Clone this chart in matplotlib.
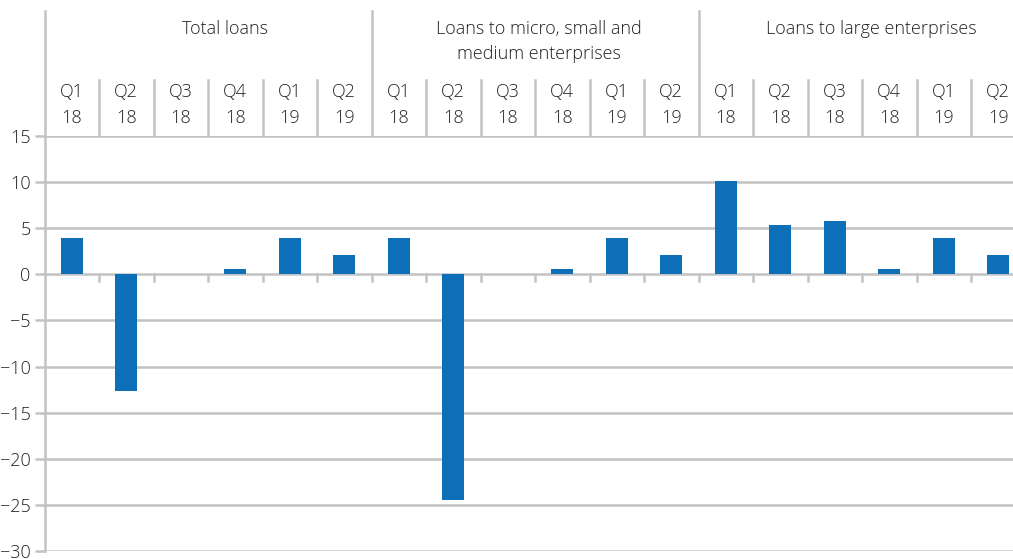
import matplotlib.pyplot as plt
import numpy as np

plt.rcParams['font.family'] = ['Open Sans', 'DejaVu Sans']
plt.rcParams['font.weight'] = 'light'

groups = ["Total loans",
          "Loans to micro, small and\nmedium enterprises",
          "Loans to large enterprises"]
quarters = ["Q1\n18", "Q2\n18", "Q3\n18", "Q4\n18", "Q1\n19", "Q2\n19"]

total = [3.9, -12.6, 0.0, 0.55, 3.95, 2.1]
msme = [3.9, -24.5, 0.0, 0.55, 3.95, 2.1]
large = [10.1, 5.35, 5.8, 0.55, 3.95, 2.1]

values = total + msme + large
labels = quarters * 3

grey = '#c3c3c3'
txt = '#222222'
blue = '#0d6fb8'
lw = 1.8
fs = 13

fig = plt.figure(figsize=(10.13, 5.59), dpi=100)
ax = fig.add_axes([44.5 / 1013, 8 / 559, 981 / 1013, 415 / 559])

x = np.arange(len(values))
ax.bar(x, values, width=0.4, color=blue, zorder=3)

ax.set_xlim(-0.5, len(values) - 0.5)
ax.set_ylim(-30, 15)
ax.set_yticks(np.arange(-30, 16, 5))
ax.set_xticks([])
for s in ax.spines.values():
    s.set_visible(False)
ax.tick_params(axis='y', length=7, width=lw, color=grey, labelcolor=txt,
               labelsize=fs, pad=3)
for t in np.arange(-30, 16, 5):
    ax.axhline(t, color=grey, lw=lw, zorder=1)

# left axis line runs up through the header
ax.plot([-0.5, -0.5], [-30, 28.5], color=grey, lw=lw, clip_on=False, zorder=2)

# small ticks under the zero line at each cell boundary
for b in np.arange(0.5, len(values), 1.0):
    ax.plot([b, b], [0, -0.75], color=grey, lw=lw, clip_on=False, zorder=2)

# header: quarter cells and group separators
for i, lab in enumerate(labels):
    ax.text(i, 18.4, lab, ha='center', va='center', color=txt, fontsize=fs,
            linespacing=1.58, clip_on=False)
    if i > 0:
        top = 28.5 if i % 6 == 0 else 21.1
        ax.plot([i - 0.5, i - 0.5], [15, top], color=grey, lw=lw, clip_on=False)

group_x = [2.82, 8.58, 14.67]
for gx, g in zip(group_x, groups):
    ax.text(gx, 27.55, g, ha='center', va='top', color=txt, fontsize=fs,
            linespacing=1.5, clip_on=False)

fig.savefig('out.png', dpi=100)
